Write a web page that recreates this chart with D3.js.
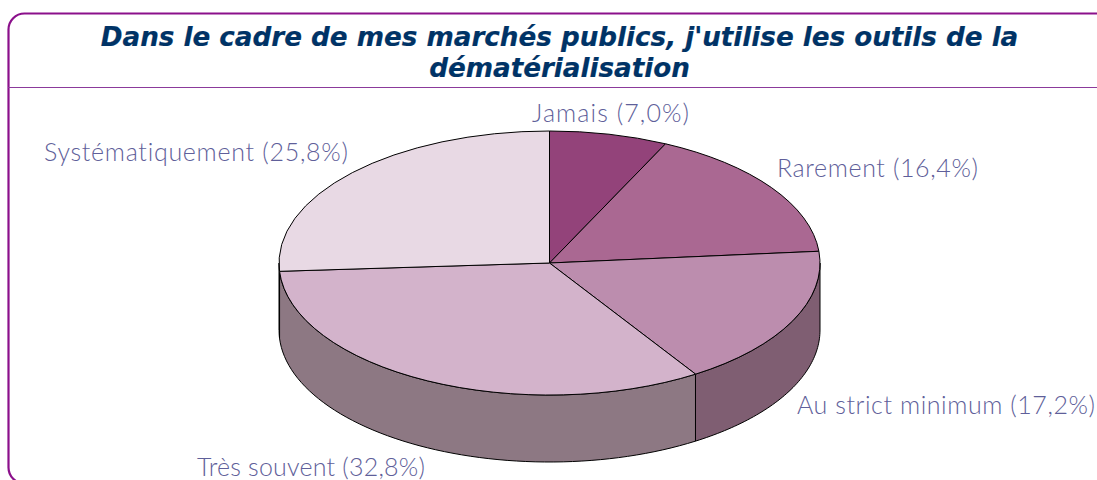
<!DOCTYPE html>
<html>
<head>
<meta charset="utf-8">
<script src="https://cdn.jsdelivr.net/npm/d3@7"></script>
<style>
    html, body { margin: 0; padding: 0; background: white; overflow: hidden; }
    svg { display: block; }
</style>
</head>
<body>
<svg id="chart"></svg>
<script>
const titleLines = ["Dans le cadre de mes marchés publics, j'utilise les outils de la", "dématérialisation"];
const categories = ["Jamais", "Rarement", "Au strict minimum", "Très souvent", "Systématiquement"];
const values = [7.0, 16.4, 17.2, 32.8, 25.8];
const topColors = ["#93437a", "#aa6892", "#bc8dae", "#d3b3cb", "#e8d9e4"];
const sideColors = ["#6e3359", "#7f5e72", "#7f5e72", "#8d7883", "#8d7883"];

const width = 1097;
const height = 480;

const cx = 549.5, cy = 263, rx = 270.5, ry = 132, depth = 67;

// label anchor positions and widths, same order as categories
const labelX = [532, 777, 797, 197, 44];
const labelY = [122, 177, 414, 476, 161];
const labelW = [157, 201, 298, 228, 304];

const svg = d3.select('#chart')
              .attr('width', width)
              .attr('height', height)
              .style('font-family', '"Lato", sans-serif');

// Frame, runs off the right side of the picture
svg.append('rect')
   .attr('x', 8.5)
   .attr('y', 13.5)
   .attr('width', 1110)
   .attr('height', 470)
   .attr('rx', 16)
   .attr('fill', 'white')
   .attr('stroke', '#8b108b')
   .attr('stroke-width', 2.2);

svg.append('line')
   .attr('x1', 8).attr('x2', width)
   .attr('y1', 87.5).attr('y2', 87.5)
   .attr('stroke', '#8b3a9b')
   .attr('stroke-width', 1);

// Title
svg.selectAll('.title')
   .data(titleLines)
   .enter()
   .append('text')
   .attr('class', 'title')
   .attr('x', 559.5)
   .attr('y', (d, i) => 46 + i * 31)
   .attr('text-anchor', 'middle')
   .style('font-family', '"DejaVu Sans", sans-serif')
   .style('font-weight', 'bold')
   .style('font-style', 'italic')
   .style('font-size', '26.2px')
   .style('fill', '#003366')
   .style('stroke', '#003366')
   .style('stroke-width', 0.2)
   .text(d => d);

// Pie angles, d3.pie normalises the total
const pie = d3.pie().sort(null).value(d => d);
const slices = pie(values).map((d, i) => ({ ...d, index: i }));

const px = a => cx + rx * Math.sin(a);
const py = a => cy - ry * Math.cos(a);

// Outer wall of the slice, only the part facing the viewer (90° to 270°)
function wallPath(d) {
    const a0 = Math.max(d.startAngle, Math.PI / 2);
    const a1 = Math.min(d.endAngle, Math.PI * 3 / 2);
    if (a1 <= a0) return null;
    const steps = d3.range(0, 61).map(i => a0 + (a1 - a0) * i / 60);
    const top = steps.map(a => [px(a), py(a)]);
    const bottom = steps.slice().reverse().map(a => [px(a), py(a) + depth]);
    return d3.line()(top.concat(bottom)) + 'Z';
}

svg.append('g')
   .selectAll('path')
   .data(slices.filter(d => wallPath(d)))
   .enter()
   .append('path')
   .attr('d', wallPath)
   .attr('fill', d => sideColors[d.index])
   .attr('stroke', 'black')
   .attr('stroke-width', 1)
   .attr('stroke-linejoin', 'round');

// Top face: unit arcs squashed into the ellipse
const arc = d3.arc().innerRadius(0).outerRadius(1);

svg.append('g')
   .attr('transform', `translate(${cx},${cy}) scale(${rx},${ry})`)
   .selectAll('path')
   .data(slices)
   .enter()
   .append('path')
   .attr('d', arc)
   .attr('fill', d => topColors[d.index])
   .attr('stroke', 'black')
   .attr('stroke-width', 1)
   .attr('vector-effect', 'non-scaling-stroke');

// Labels
svg.selectAll('.label')
   .data(slices)
   .enter()
   .append('text')
   .attr('class', 'label')
   .attr('x', d => labelX[d.index])
   .attr('y', d => labelY[d.index])
   .attr('textLength', d => labelW[d.index])
   .attr('lengthAdjust', 'spacing')
   .style('font-size', '25px')
   .style('font-weight', 300)
   .style('font-variant-ligatures', 'none')
   .style('fill', '#5f5f9a')
   .text(d => `${categories[d.index]} (${d.value.toFixed(1).replace('.', ',')}%)`);
</script>
</body>
</html>
